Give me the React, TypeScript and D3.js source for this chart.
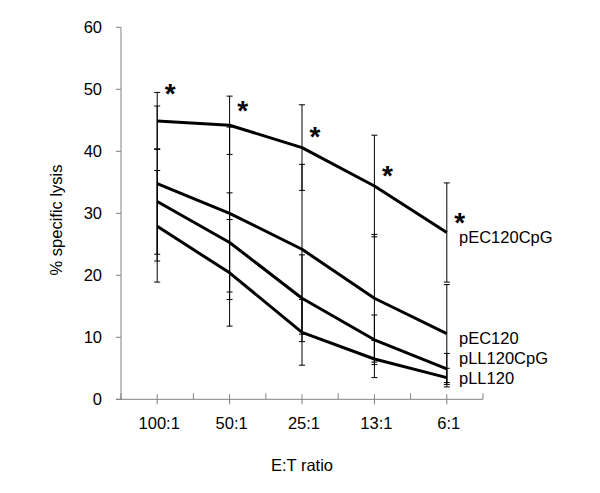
import React from 'react';
import * as d3 from 'd3';

const ratios = ['100:1', '50:1', '25:1', '13:1', '6:1'];
const seriesNames = ['pEC120CpG', 'pEC120', 'pLL120CpG', 'pLL120'];
const pEC120CpG = [44.9, 44.2, 40.6, 34.4, 26.9];
const pEC120 = [34.8, 30.0, 24.2, 16.3, 10.6];
const pLL120CpG = [31.9, 25.3, 16.3, 9.6, 4.9];
const pLL120 = [27.9, 20.4, 10.8, 6.5, 3.5];
const errEC120CpG = [4.6, 4.7, 6.9, 8.2, 8.0];
const errEC120 = [12.5, 13.9, 13.7, 10.3, 7.9];
const errLL120CpG = [8.5, 8.0, 7.0, 4.0, 2.5];
const errLL120 = [9.0, 8.6, 5.3, 3.0, 1.5];
// where the series names sit, in % lysis
const labelAt = [26.2, 9.8, 6.6, 3.5];
// asterisks (significance) height, in % lysis
const starAt = [50.2, 47.5, 43.4, 37.0, 29.4];
const yTicks = [0, 10, 20, 30, 40, 50, 60];

const font = '"Liberation Sans", Arial, sans-serif';
const axisColor = '#808080';
const fs = 16.5;

const App = () => {
  const values = [pEC120CpG, pEC120, pLL120CpG, pLL120];
  const errs = [errEC120CpG, errEC120, errLL120CpG, errLL120];

  const x = d3.scaleBand().domain(ratios).range([121, 483]);
  const y = d3.scaleLinear().domain([0, 60]).range([399.3, 27.3]);
  const cx = (c) => x(c) + x.bandwidth() / 2;

  const line = d3.line().x((d) => cx(d[0])).y((d) => y(d[1]));

  const bounds = ratios.map((c) => x(c)).concat([x.range()[1]]);

  return (
    <svg width={600} height={493} style={{ position: 'absolute', left: 0, top: 0, background: '#fff' }}
      fontFamily={font}>
      {/* y axis */}
      <line x1={121} x2={121} y1={y(60)} y2={y(0)} stroke={axisColor} />
      {yTicks.map((t) => (
        <g key={t}>
          <line x1={116} x2={121} y1={y(t)} y2={y(t)} stroke={axisColor} />
          <text x={102} y={y(t)} dy="0.36em" textAnchor="end" fontSize={fs}>{t}</text>
        </g>
      ))}
      {/* x axis */}
      <line x1={116} x2={483} y1={y(0)} y2={y(0)} stroke={axisColor} />
      {bounds.map((b, i) => (
        <line key={'b' + i} x1={b} x2={b} y1={y(0) - 6} y2={y(0)} stroke={axisColor} />
      ))}
      {ratios.map((c) => (
        <g key={c}>
          <line x1={cx(c)} x2={cx(c)} y1={y(0) - 5} y2={y(0) + 5} stroke={axisColor} />
          <text x={cx(c) + 2} y={428.5} textAnchor="middle" fontSize={fs}>{c}</text>
        </g>
      ))}

      {/* error bars */}
      {values.map((vals, s) =>
        vals.map((v, i) => {
          const px = cx(ratios[i]);
          const hi = y(v + errs[s][i]);
          const lo = y(v - errs[s][i]);
          return (
            <g key={s + '-' + i} stroke="#000" strokeWidth={1}>
              <line x1={px} x2={px} y1={hi} y2={lo} />
              <line x1={px - 3} x2={px + 3} y1={hi} y2={hi} />
              <line x1={px - 3} x2={px + 3} y1={lo} y2={lo} />
            </g>
          );
        })
      )}

      {/* lines */}
      {values.map((vals, s) => (
        <path key={seriesNames[s]} d={line(vals.map((v, i) => [ratios[i], v]))}
          fill="none" stroke="#000" strokeWidth={3} strokeLinejoin="round" />
      ))}

      {/* asterisks */}
      {starAt.map((v, i) => (
        <text key={'s' + i} x={cx(ratios[i]) + 13} y={y(v)} dy="0.55em" textAnchor="middle"
          fontSize={28} fontWeight="bold">*</text>
      ))}

      {/* series labels */}
      {seriesNames.map((n, s) => (
        <text key={n} x={459} y={y(labelAt[s])} dy="0.36em" fontSize={fs}>{n}</text>
      ))}

      <text transform="translate(62,220) rotate(-90)" textAnchor="middle" fontSize={fs}>% specific lysis</text>
      <text x={302} y={470.7} textAnchor="middle" fontSize={fs}>E:T ratio</text>
    </svg>
  );
};

export default App;
